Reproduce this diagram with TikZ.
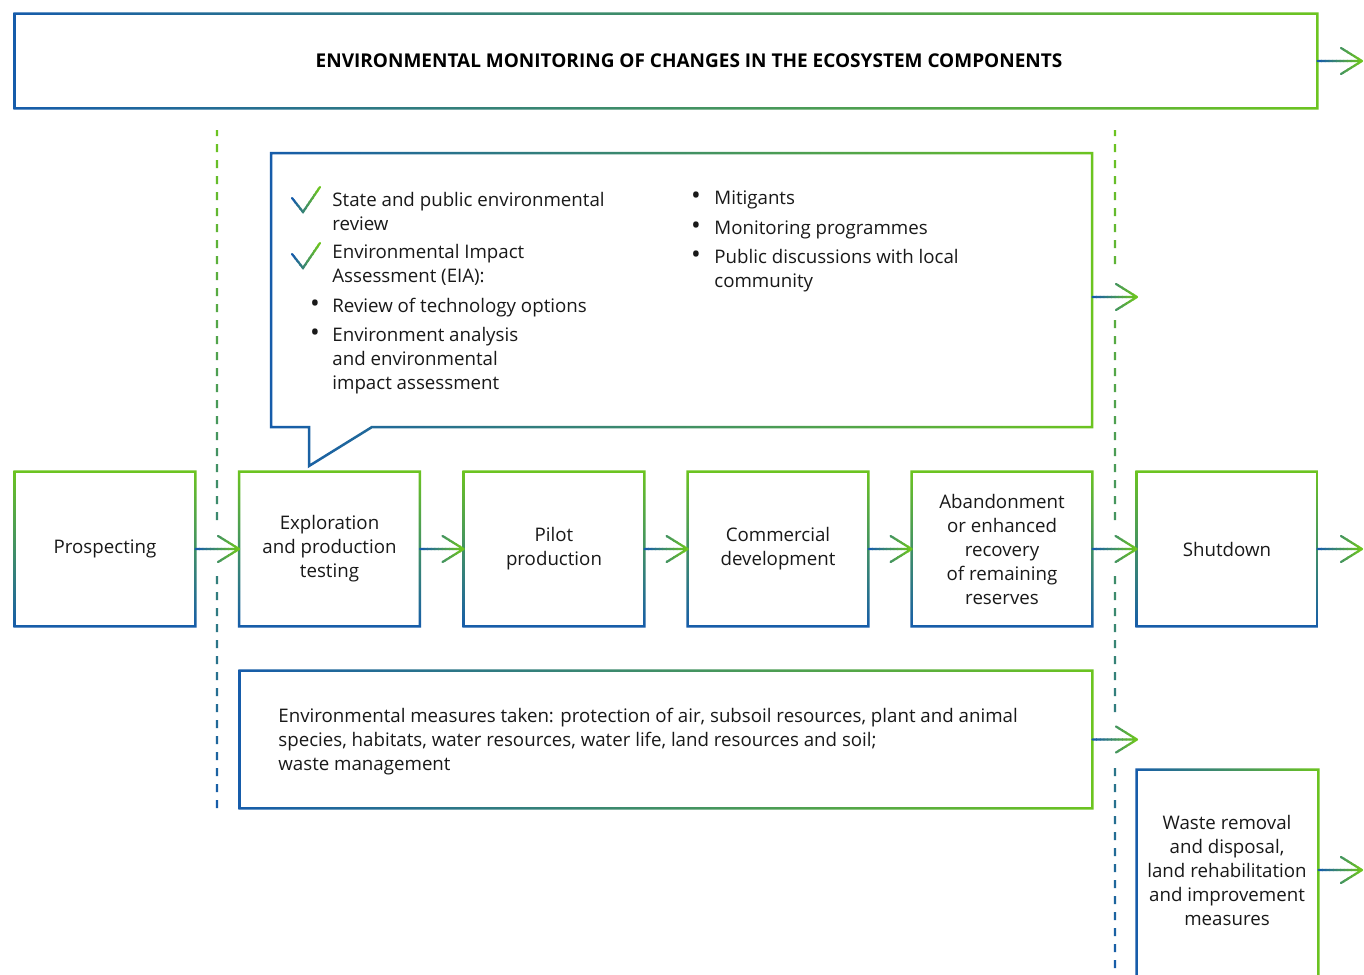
\documentclass[tikz,border=0pt]{standalone}
\usepackage{fontspec}
\setmainfont{Open Sans}
\definecolor{cb}{RGB}{22,92,170}
\definecolor{cg}{RGB}{108,196,32}
\definecolor{ink}{RGB}{25,25,25}
\newcommand\PX{0.5pt}
\newcommand\txtfont{\fontsize{9.35}{12}\selectfont}
\newcommand\bulfont{\fontsize{13}{12}\selectfont}
% gradient-bordered rectangle around a node (even-odd shaded ring)
\newcommand\gradrect[2]{%
  \shade[even odd rule,#2]
    ([shift={(-1.25,1.25)}]#1.south west) rectangle ([shift={(1.25,-1.25)}]#1.north east)
    ([shift={(1.25,-1.25)}]#1.south west) rectangle ([shift={(-1.25,1.25)}]#1.north east);}
% horizontally graded stroke: #1,#2 coordinates giving x range, #3 style, #4 path
\newcommand\gradpath[4]{%
  \path #1; \pgfgetlastxy{\gpxa}{\gpya}%
  \path #2; \pgfgetlastxy{\gpxb}{\gpyb}%
  \foreach \k in {0,...,11}{%
    \pgfmathsetmacro\cla{\k==0 ? -5000 : \gpxa+(\gpxb-\gpxa)*\k/12}%
    \pgfmathsetmacro\clb{\k==11 ? 5000 : \gpxa+(\gpxb-\gpxa)*(\k+1)/12+0.4}%
    \pgfmathtruncatemacro\pc{round(100*\k/11)}%
    \begin{scope}
      \clip (\cla pt,-5000pt) rectangle (\clb pt,5000pt);
      \draw[#3,draw=cg!\pc!cb] #4;
    \end{scope}}}
\newcommand\garrow[2]{%
  \path #1 coordinate (gs) #2 coordinate (ge);
  \gradpath{(gs)}{(ge)}{arrowline}{(gs) -- (ge) ([shift={(-21,-13)}]ge) -- (ge) -- ([shift={(-21,13)}]ge)}}
\tikzset{
  region/.style={inner sep=0pt, draw=none},
  stagebox/.style={region, minimum width=180*\PX, minimum height=154*\PX, align=center, text=ink},
  txt/.style={inner sep=0pt, align=left, anchor=west, text=ink},
  ctxt/.style={inner sep=0pt, align=center, text=ink},
  bul/.style={inner sep=0pt, text=ink, font=\bulfont},
  arrowline/.style={line width=2.2*\PX, line cap=round, line join=round},
  chk/.style={line width=2.2*\PX, line cap=round, line join=miter},
  hs/.style={left color=cb, right color=cg},
  vs/.style={top color=cg, bottom color=cb},
}
\begin{document}
\begin{tikzpicture}[x=0.5pt,y=-0.5pt,font=\txtfont]
\useasboundingbox (0,0) rectangle (1364,974);
\clip (0,0) rectangle (1364,974);
\fill[white] (0,0) rectangle (1364,974);

% ---------- top monitoring box ----------
\node[region, minimum width=1302*\PX, minimum height=94*\PX] (topbox) at (666,61) {};
\gradrect{topbox}{hs}
\node[ctxt, font=\fontsize{9.5}{12}\selectfont\bfseries, text=black] (title) at (689,61) {ENVIRONMENTAL MONITORING OF CHANGES IN THE ECOSYSTEM COMPONENTS};
\coordinate (t1) at (1362,61);
\garrow{(topbox.east)}{(t1)}

% ---------- dashed phase lines ----------
\begin{scope}
  \clip \foreach \k in {0,...,24}{(215.9,{128+16*\k}) rectangle (218.1,{136+16*\k})}
        \foreach \k in {28,...,42}{(215.9,{128+16*\k}) rectangle (218.1,{136+16*\k})};
  \shade[top color=cg, bottom color=cb] (215,130) rectangle (219,808);
\end{scope}
\begin{scope}
  \clip \foreach \k in {0,...,8}{(1113.9,{128+16*\k}) rectangle (1116.1,{136+16*\k})}
        \foreach \k in {12,...,24}{(1113.9,{128+16*\k}) rectangle (1116.1,{136+16*\k})}
        \foreach \k in {28,...,36}{(1113.9,{128+16*\k}) rectangle (1116.1,{136+16*\k})}
        \foreach \k in {40,...,53}{(1113.9,{128+16*\k}) rectangle (1116.1,{136+16*\k})};
  \shade[top color=cg, bottom color=cb] (1113,130) rectangle (1117,974);
\end{scope}

% ---------- callout ----------
\node[region, minimum width=821*\PX, minimum height=274*\PX] (call) at (681.5,290) {};
\shade[even odd rule, hs]
  (269.75,151.75) -- (1093.25,151.75) -- (1093.25,428.25) -- (372.36,428.25) -- (307.75,468.25) -- (307.75,428.25) -- (269.75,428.25) -- cycle
  (272.25,154.25) -- (1090.75,154.25) -- (1090.75,425.75) -- (371.64,425.75) -- (310.25,463.76) -- (310.25,425.75) -- (272.25,425.75) -- cycle;
\gradpath{(292,0)}{(320,0)}{chk}{(292,198) -- (303,212) -- (320,187)}
\gradpath{(292,0)}{(320,0)}{chk}{(292,254) -- (303,268) -- (320,243)}
\node[txt] (c1) at (332,211) {State and public environmental\\review};
\node[txt] (c2) at (332,265) {Environmental Impact\\Assessment (EIA):};
\node[bul] (d1) at (315,306) {•};
\node[txt] (b1) at (332,308) {Review of technology options};
\node[bul] (d2) at (315,335) {•};
\node[txt] (b2) at (332,361) {Environment analysis\\and environmental\\impact assessment};
\node[bul] (d3) at (696,198) {•};
\node[txt] (r1) at (714,200) {Mitigants};
\node[bul] (d4) at (696,228) {•};
\node[txt] (r2) at (714,230) {Monitoring programmes};
\node[bul] (d5) at (696,257) {•};
\node[txt] (r3) at (714,271) {Public discussions with local\\community};
\coordinate (ca) at (1137,297);
\garrow{(call.east |- ca)}{(ca)}

% ---------- stage boxes ----------
\node[stagebox] (pro) at (105,549) {Prospecting};
\node[stagebox] (exp) at (329.5,549) {Exploration\\and production\\testing};
\node[stagebox] (pil) at (554,549) {Pilot\\production};
\node[stagebox] (com) at (778,549) {Commercial\\development};
\node[stagebox] (aba) at (1002,549) {Abandonment\\or enhanced\\recovery\\of remaining\\reserves};
\node[stagebox] (shu) at (1227,549) {Shutdown};
\foreach \n in {pro,exp,pil,com,aba,shu}{\gradrect{\n}{vs}}
\garrow{(pro.east)}{(exp.west)}
\garrow{(exp.east)}{(pil.west)}
\garrow{(pil.east)}{(com.west)}
\garrow{(com.east)}{(aba.west)}
\garrow{(aba.east)}{(shu.west)}
\coordinate (s1) at (1362,549);
\garrow{(shu.east)}{(s1)}

% ---------- measures box ----------
\node[region, minimum width=852*\PX, minimum height=137*\PX] (meas) at (666,739.5) {};
\gradrect{meas}{hs}
\node[txt] (meastxt) at (278,742) {Environmental measures taken: protection of air, subsoil resources, plant and animal\\species, habitats, water resources, water life, land resources and soil;\\waste management};
\coordinate (m1) at (1137,739.5);
\garrow{(meas.east)}{(m1)}

% ---------- waste box ----------
\node[region, minimum width=181*\PX, minimum height=330*\PX] (waste) at (1227.5,935) {};
\gradrect{waste}{hs}
\node[ctxt] (wastetxt) at (1227,870) {Waste removal\\and disposal,\\land rehabilitation\\and improvement\\measures};
\coordinate (w1) at (1362,870);
\garrow{(waste.east |- w1)}{(w1)}
\end{tikzpicture}
\end{document}
